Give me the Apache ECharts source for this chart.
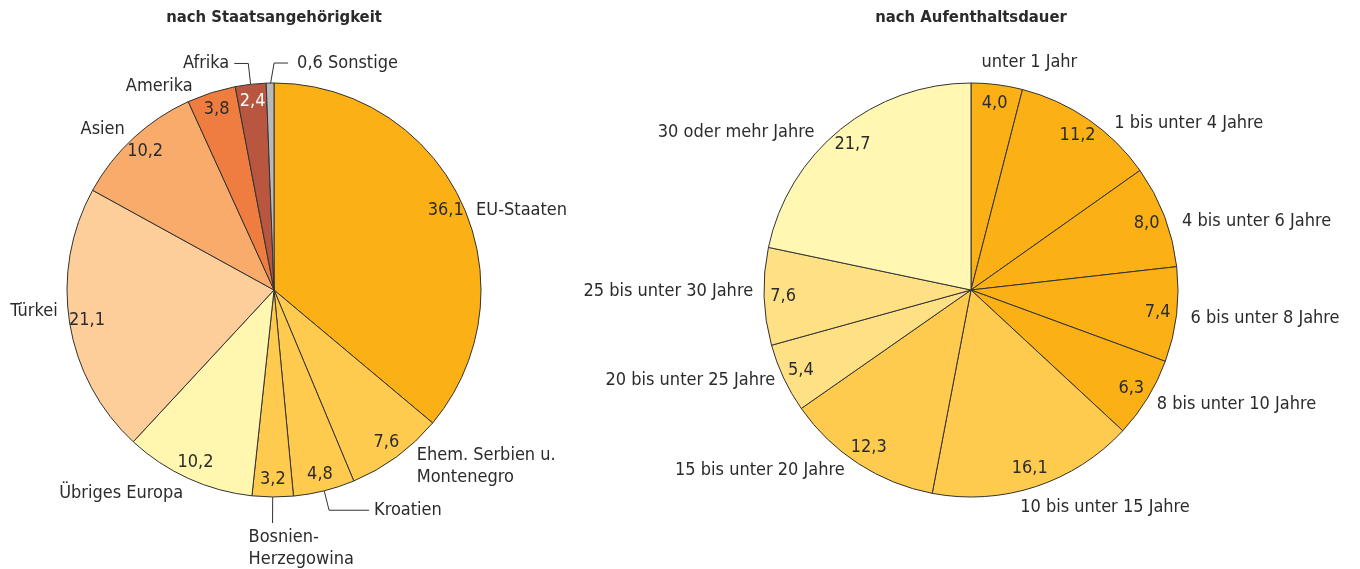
<!DOCTYPE html>
<html><head><meta charset="utf-8">
<script src="https://cdn.jsdelivr.net/npm/echarts@6/dist/echarts.min.js"></script>
<style>html,body{margin:0;padding:0;background:#fff}#c{width:1360px;height:569px}</style>
</head><body><div id="c"></div>
<script>
// ---- data ----
const nationCategories = ['EU-Staaten', 'Ehem. Serbien u.\nMontenegro', 'Kroatien', 'Bosnien-\nHerzegowina', 'Übriges Europa', 'Türkei', 'Asien', 'Amerika', 'Afrika', 'Sonstige'];
const nationValues = [36.1, 7.6, 4.8, 3.2, 10.2, 21.1, 10.2, 3.8, 2.4, 0.6];
const durationCategories = ['unter 1 Jahr', '1 bis unter 4 Jahre', '4 bis unter 6 Jahre', '6 bis unter 8 Jahre', '8 bis unter 10 Jahre', '10 bis unter 15 Jahre', '15 bis unter 20 Jahre', '20 bis unter 25 Jahre', '25 bis unter 30 Jahre', '30 oder mehr Jahre'];
const durationValues = [4.0, 11.2, 8.0, 7.4, 6.3, 16.1, 12.3, 5.4, 7.6, 21.7];
const titles = ['nach Staatsangehörigkeit', 'nach Aufenthaltsdauer'];

// ---- styles ----
const nationColors = ['#FBB116', '#FECB4E', '#FECB4E', '#FECB4E', '#FFF6B0', '#FDCD9A', '#F9AB6B', '#EE7D3F', '#B85640', '#B8B9BB'];
const durationColors = ['#FBB116', '#FBB116', '#FBB116', '#FBB116', '#FBB116', '#FECB4E', '#FECB4E', '#FEE085', '#FEE085', '#FFF7B2'];
const FONT = '"Liberation Sans Narrow", "DejaVu Sans Condensed", sans-serif';
const TEXT = '#2b2b2b';
const FS = 18;
const R = 207;
const centers = [[274, 290], [971, 290]];
// label nudges (dx, dy) for outside name labels
const leftNudges = {0: [5, 10], 1: [12, 6], 4: [2, 10], 5: [-2, -12], 6: [0, -5], 7: [-12, -2]};
const rightNudges = {0: [-21, -17], 1: [18, 8], 2: [8, 7], 3: [4, 3], 4: [0, 4], 5: [-22, 16], 6: [-6, 2], 7: [1, 0], 8: [-1, -5], 9: [-18, 7]};
const leftLines = {2: {length: 20, length2: 40}, 3: {length: 26, length2: 0}, 8: {length: 21, length2: 14}, 9: {length: 22, length2: 0}};

const fmt = v => v.toFixed(1).replace('.', ',');

function mainData(cats, vals, colors, lines) {
  return cats.map((c, i) => {
    const d = {name: c, value: vals[i], itemStyle: {color: colors[i]}};
    if (lines && lines[i]) d.labelLine = Object.assign({show: true}, lines[i]);
    return d;
  });
}
function ringData(cats, vals, hidden, white) {
  return cats.map((c, i) => {
    const d = {name: c, value: vals[i]};
    if (hidden.includes(i)) d.label = {show: false};
    if (white.includes(i)) d.label = {color: '#ffffff'};
    return d;
  });
}

const baseLabel = {
  show: true, position: 'outside', fontFamily: FONT, fontSize: FS, color: TEXT,
  lineHeight: 22, distanceToLabelLine: 5
};
const baseLine = {show: false, length: 5, length2: 0, lineStyle: {color: '#333', width: 1}};

function mainSeries(data, center, layoutFn) {
  return {
    type: 'pie', center: center, radius: [0, R], startAngle: 90, clockwise: true,
    avoidLabelOverlap: false, silent: true, animation: false,
    itemStyle: {borderColor: '#333', borderWidth: 1},
    label: Object.assign({}, baseLabel, {
      formatter: p => p.name === 'Sonstige' ? fmt(p.value) + ' ' + p.name : p.name
    }),
    labelLine: baseLine,
    labelLayout: layoutFn,
    emphasis: {disabled: true},
    data: data
  };
}
function ringSeries(data, center, r0) {
  return {
    type: 'pie', center: center, radius: [r0, R], startAngle: 90, clockwise: true,
    avoidLabelOverlap: false, silent: true, animation: false,
    itemStyle: {color: 'rgba(0,0,0,0)', borderWidth: 0},
    label: {show: true, position: 'inside', fontFamily: FONT, fontSize: FS, color: TEXT,
      formatter: p => fmt(p.value)},
    labelLine: {show: false},
    emphasis: {disabled: true},
    data: data
  };
}

function leftLayout(p) {
  const i = p.dataIndex;
  const pts = p.labelLinePoints;
  if (i === 3 && pts) {
    return {x: pts[1][0] - 24, y: pts[1][1] + 3, align: 'left', verticalAlign: 'top', labelLinePoints: pts};
  }
  if (i === 9 && pts) {
    const a = pts[0];
    return {x: a[0] + 27, y: a[1] - 20, align: 'left', verticalAlign: 'middle',
      labelLinePoints: [[a[0], a[1] + 3], [a[0] + 4, a[1] - 20], [a[0] + 18, a[1] - 20]]};
  }
  const n = leftNudges[i];
  return n ? {dx: n[0], dy: n[1]} : {};
}
function rightLayout(p) {
  const n = rightNudges[p.dataIndex];
  return n ? {dx: n[0], dy: n[1]} : {};
}

const chart = echarts.init(document.getElementById('c'), null, {renderer: 'canvas'});
chart.setOption({
  backgroundColor: '#ffffff',
  animation: false,
  graphic: titles.map((t, k) => ({
    type: 'text', x: centers[k][0], y: 18, silent: true,
    style: {text: t, fill: TEXT, font: 'bold 16.5px ' + FONT, align: 'center', verticalAlign: 'middle'}
  })),
  series: [
    mainSeries(mainData(nationCategories, nationValues, nationColors, leftLines), centers[0], leftLayout),
    ringSeries(ringData(nationCategories, nationValues, [9], [8]), centers[0], 166),
    mainSeries(mainData(durationCategories, durationValues, durationColors, null), centers[1], rightLayout),
    ringSeries(ringData(durationCategories, durationValues, [], []), centers[1], 163)
  ]
});
</script>
</body></html>
